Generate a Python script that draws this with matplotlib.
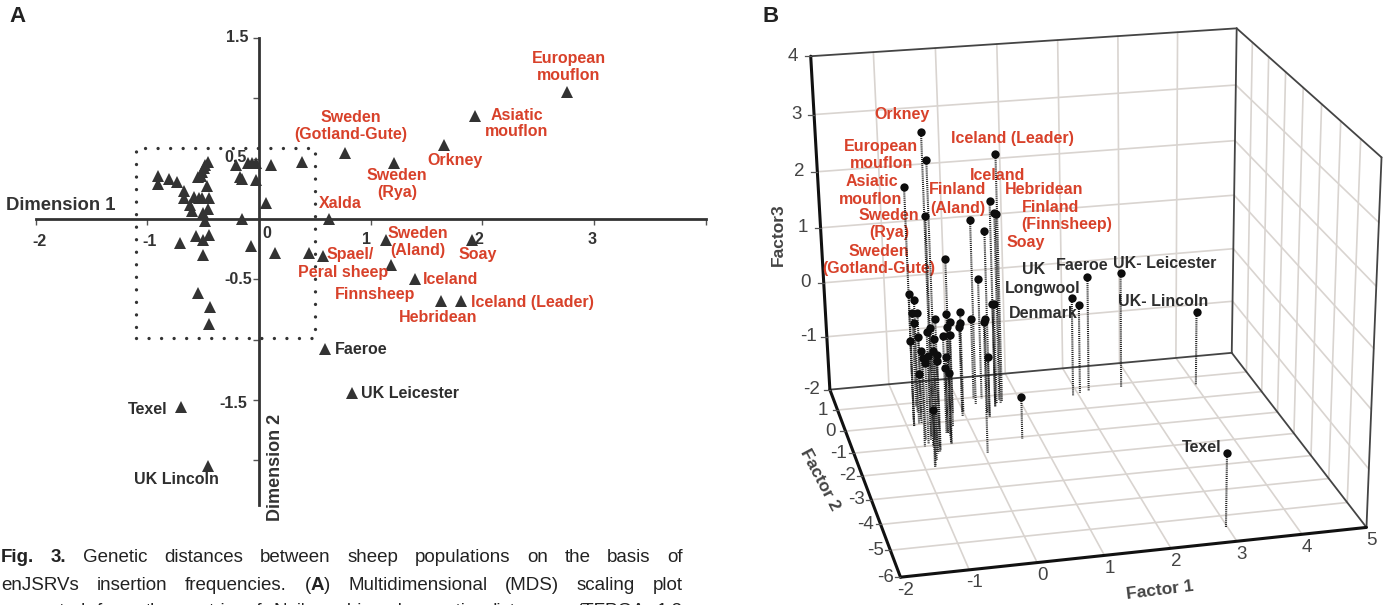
import matplotlib
matplotlib.use('Agg')
import matplotlib.pyplot as plt
import numpy as np

plt.rcParams['font.family'] = ['Liberation Sans', 'DejaVu Sans']

W, H = 1388, 605
RED = '#d8412a'
DARK = '#2e2e2e'

# Panel A: MDS coordinates
named_pops = ['European mouflon', 'Asiatic mouflon', 'Orkney', 'Sweden (Gotland-Gute)', 'Sweden (Rya)',
              'Xalda', 'Sweden (Aland)', 'Soay', 'Spael/Peral sheep', 'Finnsheep', 'Iceland', 'Hebridean',
              'Iceland (Leader)', 'Faeroe', 'UK Leicester', 'Texel', 'UK Lincoln']
named_x = [2.76, 1.93, 1.66, 0.77, 1.21, 0.63, 1.14, 1.91, 0.57, 1.18, 1.40, 1.63, 1.81, 0.59, 0.83, -0.70, -0.46]
named_y = [1.05, 0.85, 0.61, 0.55, 0.46, 0.0, -0.17, -0.17, -0.31, -0.38, -0.50, -0.68, -0.68, -1.08, -1.44, -1.56, -2.05]
other_x = [-0.90, -0.90, -0.81, -0.73, -0.67, -0.67, -0.62, -0.60, -0.58, -0.54, -0.51, -0.47, -0.45, -0.46, -0.50,
           -0.48, -0.55, -0.52, -0.51, -0.49, -0.48, -0.46, -0.21, -0.10, -0.06, -0.03, -0.17, -0.15, -0.03, 0.11,
           0.385, 0.06, -0.15, -0.56, -0.50, -0.45, -0.71, -0.50, -0.07, 0.14, 0.45, -0.55, -0.44, -0.45]
other_y = [0.36, 0.29, 0.33, 0.31, 0.23, 0.17, 0.12, 0.07, 0.18, 0.17, 0.17, 0.27, 0.17, 0.08, 0.05,
           -0.02, 0.35, 0.36, 0.39, 0.42, 0.45, 0.475, 0.45, 0.46, 0.46, 0.46, 0.35, 0.33, 0.32, 0.45,
           0.47, 0.13, 0.0, -0.14, -0.17, -0.13, -0.20, -0.30, -0.22, -0.28, -0.28, -0.61, -0.73, -0.87]
box_x = [-1.10, 0.50]
box_y = [-0.99, 0.59]

# Panel B: factor scores
f1 = [-0.73, -0.70, -0.89, -0.84, 0.70, 0.55, 0.67, 0.67, 0.26, 0.38, -0.42, 0.40, 2.20, 2.77, 4.01, 1.90, 2.04, 2.97,
      0.71, -0.89, -0.79, -0.72, -0.68, -0.73, -0.43, 0.00, -0.66, -0.18, -0.05, -0.02, -0.39, 0.27, 0.37, 0.06, 0.55,
      0.60, -0.66, -0.72, -0.43, -0.28, -0.85, -0.75, -0.70, -0.86, -0.77, -0.80, -0.69, -0.64, -0.40, -0.78, -0.63,
      -0.40, -0.43, -0.74, 0.38, -0.83]
f2 = [-1.05, -1.28, -0.09, -1.91, 0.67, 0.47, 0.76, 0.63, 0.68, 0.04, -0.99, 0.92, 0.79, 0.84, 0.60, 0.63, 0.74, -5.47,
      -1.09, -0.09, 0.04, 0.81, 0.48, 0.58, -0.98, 0.38, -1.30, 0.35, 0.15, 0.38, -0.69, 0.95, 0.20, -1.57, 0.47,
      0.62, -0.77, -0.75, -0.53, -0.26, 0.21, 0.03, -1.36, -1.02, -1.64, -0.73, -0.61, -1.23, -0.53, -0.89, -1.08,
      -0.46, -0.98, 0.18, 0.04, -1.91]
f3 = [3.45, 3.05, 2.26, 2.33, 2.48, 1.73, 1.42, 1.44, 1.36, 1.36, 1.27, 0.21, 0.13, 0.13, -0.62, -0.17, -0.35, -0.72,
      -1.23, 0.41, 0.25, -0.26, -0.16, -0.37, 0.32, -0.17, 0.36, -0.32, -0.28, -0.44, -0.01, -0.51, -0.27, 0.33, -0.11,
      -0.16, 0.02, -0.06, -0.23, -0.33, -0.55, -0.41, 0.05, -0.27, -0.06, -0.52, -0.53, -0.29, -0.61, -0.55, -0.46,
      -0.84, -0.72, -1.15, -0.90, -0.99]

f1_ticks = [-2, -1, 0, 1, 2, 3, 4, 5]
f2_ticks = [2, 1, 0, -1, -2, -3, -4, -5, -6]
f3_ticks = [-2, -1, 0, 1, 2, 3, 4]

a_labels = [('European', 569, 59, RED), ('mouflon', 569, 75, RED), ('Asiatic', 517, 115, RED), ('mouflon', 517, 131, RED),
            ('Sweden', 351, 118, RED), ('(Gotland-Gute)', 351, 135, RED), ('Orkney', 455, 160, RED),
            ('Sweden', 397, 175, RED), ('(Rya)', 397, 193, RED), ('Xalda', 340, 203, RED),
            ('Sweden', 418, 233, RED), ('(Aland)', 418, 250, RED), ('Soay', 478, 254, RED),
            ('Spael/', 350, 254, RED), ('Peral sheep', 343, 273, RED), ('Finnsheep', 375, 294, RED),
            ('Iceland', 451, 280, RED), ('Iceland (Leader)', 532, 302, RED), ('Hebridean', 438, 318, RED),
            ('Faeroe', 361, 350, DARK), ('UK Leicester', 410, 393, DARK), ('Texel', 148, 409, DARK),
            ('UK Lincoln', 176, 479, DARK)]
a_xticks = [('-2', 40, 241), ('-1', 150, 241), ('0', 267, 234), ('1', 367, 240), ('2', 479, 240), ('3', 592, 240)]
a_yticks = [('1.5', 237, 38), ('0.5', 236, 157), ('-0.5', 238, 279), ('-1.5', 233, 403)]
b_labels = [('Orkney', 902, 115, RED), ('European', 881, 146, RED), ('mouflon', 882, 163, RED), ('Asiatic', 872, 181, RED),
            ('mouflon', 871, 199, RED), ('Sweden', 889, 215, RED), ('(Rya)', 889, 233, RED), ('Sweden', 879, 251, RED),
            ('(Gotland-Gute)', 879, 269, RED), ('Iceland (Leader)', 1012, 138, RED), ('Iceland', 998, 175, RED),
            ('Finland', 958, 190, RED), ('(Aland)', 958, 208, RED), ('Hebridean', 1044, 189, RED), ('Finland', 1051, 207, RED),
            ('(Finnsheep)', 1067, 225, RED), ('Soay', 1026, 242, RED), ('UK', 1034, 270, DARK), ('Longwool', 1043, 288, DARK),
            ('Faeroe', 1082, 265, DARK), ('UK- Leicester', 1165, 263, DARK), ('UK- Lincoln', 1163, 302, DARK),
            ('Denmark', 1043, 314, DARK), ('Texel', 1202, 448, DARK)]

# '*' marks a bold word, '|' joins pieces without a space
caption = ['*Fig. *3. Genetic distances between sheep populations on the basis of',
           'enJSRVs insertion frequencies. (|*A|) Multidimensional (MDS) scaling plot',
           "generated from the matrix of Nei's unbiased genetic distances (TFPGA 1.3"]

fig = plt.figure(figsize=(W / 100, H / 100), dpi=100)

# panel A, real axes crossing at the origin
ax = fig.add_axes([35.6 / W, 1 - 505 / H, (705.8 - 35.6) / W, (505 - 38) / H])
ax.patch.set_visible(False)
ax.set_xlim(-2, 4)
ax.set_ylim(-2.37, 1.5)
for s in ['top', 'right']:
    ax.spines[s].set_visible(False)
ax.spines['left'].set_position(('data', 0))
ax.spines['bottom'].set_position(('data', 0))
for s in ['left', 'bottom']:
    ax.spines[s].set_linewidth(2.0)
    ax.spines[s].set_color('#333333')
ax.set_xticks([-2, -1, 1, 2, 3, 4])
ax.set_yticks([1.5, 1, 0.5, -0.5, -1, -1.5, -2])
ax.tick_params(length=4, width=1, color='#555555', labelleft=False, labelbottom=False)
ax.plot([box_x[0], box_x[1], box_x[1], box_x[0], box_x[0]], [box_y[0], box_y[0], box_y[1], box_y[1], box_y[0]],
        color='#333333', lw=2.4, ls=(0, (0.01, 3.75)), dash_capstyle='round', clip_on=False, zorder=1)
ax.plot(other_x, other_y, '^', color='#333333', ms=8.8, mew=0, clip_on=False, zorder=3)
ax.plot(named_x, named_y, '^', color='#333333', ms=8.8, mew=0, clip_on=False, zorder=3)

# overlay in pixel coordinates for texts and the projected box of panel B
px = fig.add_axes([0, 0, 1, 1], zorder=5)
px.patch.set_visible(False)
px.set_xlim(0, W)
px.set_ylim(H, 0)
px.axis('off')


def label(s, x, y, color=DARK, size=11.5, weight='bold', rotation=0):
    px.text(x, y, s, color=color, fontsize=size, fontweight=weight, ha='center', va='center', rotation=rotation)


for s, x, y, c in a_labels + b_labels:
    label(s, x, y, c)
for s, x, y in a_xticks + a_yticks:
    label(s, x, y, '#333333')
label('Dimension 1', 61, 205, '#333333', 13.3)
label('Dimension 2', 276, 467, '#333333', 13, rotation=90)
label('A', 18, 16, '#222222', 16)
label('B', 771, 17, '#222222', 16)

# camera for panel B, fitted on the corners of the box
corners = [(-2, 2, -2, 830, 390), (-2, -6, -2, 900, 577), (5, -6, -2, 1366.5, 527), (5, 2, -2, 1232, 353),
           (5, 2, 4, 1236, 28), (5, -6, 4, 1382, 158), (-2, 2, 4, 811, 56)]
A, b = [], []
for X, Y, Z, u, v in corners:
    A.append([X, Y, Z, 1, 0, 0, 0, 0, -u * X, -u * Y, -u * Z])
    b.append(u)
    A.append([0, 0, 0, 0, X, Y, Z, 1, -v * X, -v * Y, -v * Z])
    b.append(v)
P = np.append(np.linalg.lstsq(np.array(A, float), np.array(b, float), rcond=None)[0], 1).reshape(3, 4)


def proj(x, y, z):
    q = P @ np.array([x, y, z, 1.0])
    return q[0] / q[2], q[1] / q[2]


def seg(a, b, **kw):
    pa, pb = proj(*a), proj(*b)
    px.plot([pa[0], pb[0]], [pa[1], pb[1]], solid_capstyle='round', **kw)


GRID = dict(color='#d9d4d0', lw=1.2, zorder=1)
for x in f1_ticks[1:-1]:
    seg((x, 2, -2), (x, 2, 4), **GRID)
    seg((x, 2, -2), (x, -6, -2), **GRID)
for z in f3_ticks[1:-1]:
    seg((-2, 2, z), (5, 2, z), **GRID)
    seg((5, 2, z), (5, -6, z), **GRID)
for y in f2_ticks[1:-1]:
    seg((-2, y, -2), (5, y, -2), **GRID)
    seg((5, y, -2), (5, y, 4), **GRID)

THIN = dict(color='#444444', lw=1.3, zorder=2)
THICK = dict(color='#111111', lw=2.2, zorder=2)
seg((-2, 2, 4), (5, 2, 4), **THIN)
seg((5, 2, 4), (5, 2, -2), **THIN)
seg((5, 2, 4), (5, -6, 4), **THIN)
seg((5, -6, 4), (5, -6, -2), **THIN)
seg((5, 2, -2), (5, -6, -2), **THIN)
seg((-2, 2, -2), (5, 2, -2), **THIN)
seg((-2, 2, 4), (-2, 2, -2), **THICK)
seg((-2, 2, -2), (-2, -6, -2), **THICK)
seg((-2, -6, -2), (5, -6, -2), **THICK)

for z in f3_ticks:
    u, v = proj(-2, 2, z)
    px.plot([u - 6, u], [v, v], color='#555555', lw=0.9, zorder=2)
    label(str(z), u - 18, v, '#444444', 13.5, 'normal')
for y in f2_ticks[1:]:
    u, v = proj(-2, y, -2)
    px.plot([u - 5, u], [v, v], color='#555555', lw=0.9, zorder=2)
    label(str(y), u - 15, v, '#444444', 13.5, 'normal')
for x in f1_ticks:
    u, v = proj(x, -6, -2)
    label(str(x), u + 5, v + 13, '#444444', 13.5, 'normal')
label('Factor3', 778, 235, '#444444', 12.5, rotation=90)
label('Factor 2', 820, 480, '#444444', 12.5, rotation=-62)
label('Factor 1', 1160, 590, '#444444', 12.5, rotation=7)

# drop lines and points
for x, y, z in zip(f1, f2, f3):
    t, f = proj(x, y, z), proj(x, y, -2)
    px.plot([t[0], f[0]], [t[1], f[1]], color='#1a1a1a', lw=1.5, ls=(0, (0.5, 0.5)), zorder=3)
    px.plot(t[0], t[1], 'o', color='#0d0d0d', ms=6, mew=0, zorder=4)

# justified caption
r = fig.canvas.get_renderer()
for i, line in enumerate(caption):
    words = line.split(' ')
    groups = []
    for w in words:
        pieces = []
        for p in w.split('|'):
            bold = p.startswith('*')
            pieces.append(px.text(0, 558 + 27 * i, p.lstrip('*'), fontsize=13.5, color='#222222', va='center',
                                  fontweight='bold' if bold else 'normal'))
        groups.append(pieces)
    ws = [sum(t.get_window_extent(r).width for t in g) for g in groups]
    gap = (682 - sum(ws)) / (len(ws) - 1)
    x = 1
    for g, w in zip(groups, ws):
        cur = x
        for t in g:
            t.set_x(cur)
            cur += t.get_window_extent(r).width
        x += w + gap

fig.savefig('out.png', dpi=100)
